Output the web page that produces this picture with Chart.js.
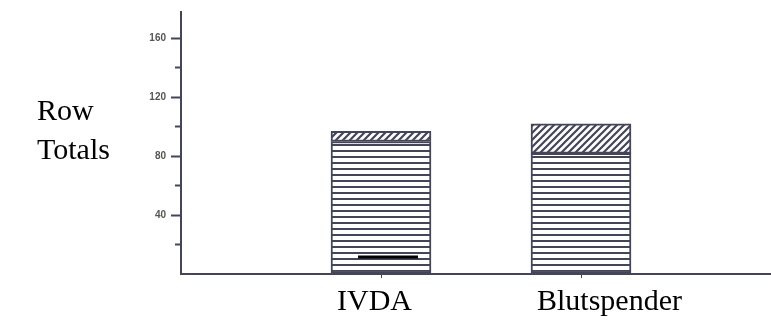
<!DOCTYPE html>
<html>
<head>
<meta charset="utf-8">
<script src="https://cdn.jsdelivr.net/npm/chart.js@4.4.1/dist/chart.umd.min.js"></script>
<style>
  html, body { margin: 0; padding: 0; background: #ffffff; }
  #wrap { width: 771px; height: 322px; position: relative; }
</style>
</head>
<body>
<div id="wrap"><canvas id="c" width="771" height="322"></canvas></div>
<script>
// Categories and stacked row totals
const categories = ['IVDA', 'Blutspender'];
const lowerTotals = [90, 82];   // horizontally striped segment
const upperTotals = [7, 20];    // diagonally hatched segment
// short black bar drawn inside the IVDA column
const ivdaMarkLevel = [11.5, 11.5];
const ivdaMarkSpan = [0.885, 1.185];
const yTitleLines = ['Row', 'Totals'];

const ink = '#45455a';
const serif = '"Liberation Serif", "Times New Roman", serif';

function stripePattern() {
  const t = document.createElement('canvas');
  t.width = 8; t.height = 6;
  const g = t.getContext('2d');
  g.fillStyle = '#ffffff'; g.fillRect(0, 0, 8, 6);
  g.fillStyle = ink; g.fillRect(0, 0, 8, 2);
  return g.createPattern(t, 'repeat');
}

function hatchPattern() {
  const s = 7;
  const t = document.createElement('canvas');
  t.width = s; t.height = s;
  const g = t.getContext('2d');
  g.fillStyle = '#ffffff'; g.fillRect(0, 0, s, s);
  g.strokeStyle = ink; g.lineWidth = 2.2;
  g.beginPath();
  g.moveTo(-1, s + 1); g.lineTo(s + 1, -1);
  g.moveTo(-1, 1); g.lineTo(1, -1);
  g.moveTo(s - 1, s + 1); g.lineTo(s + 1, s - 1);
  g.stroke();
  return g.createPattern(t, 'repeat');
}

const rowTitle = {
  id: 'rowTitle',
  afterDraw(chart) {
    const ctx = chart.ctx;
    ctx.save();
    ctx.font = '30px ' + serif;
    ctx.fillStyle = '#000000';
    ctx.textAlign = 'left';
    ctx.textBaseline = 'alphabetic';
    yTitleLines.forEach((line, i) => ctx.fillText(line, 37, 120 + i * 39));
    ctx.restore();
  }
};

const isMinor = (ctx) => ctx.tick && ctx.tick.value % 40 !== 0;

new Chart(document.getElementById('c'), {
  type: 'bar',
  data: {
    datasets: [
      {
        label: 'lower',
        data: categories.map((c, i) => ({ x: i + 1, y: lowerTotals[i] })),
        backgroundColor: stripePattern(),
        borderColor: ink,
        borderWidth: 2,
        borderSkipped: false,
        barThickness: 100,
        stack: 'totals',
        order: 1
      },
      {
        label: 'upper',
        data: categories.map((c, i) => ({ x: i + 1, y: upperTotals[i] })),
        backgroundColor: hatchPattern(),
        borderColor: ink,
        borderWidth: 2,
        borderSkipped: false,
        barThickness: 100,
        stack: 'totals',
        order: 1
      },
      {
        type: 'line',
        label: 'mark',
        data: ivdaMarkSpan.map((x, i) => ({ x: x, y: ivdaMarkLevel[i] })),
        borderColor: '#000000',
        borderWidth: 3,
        pointRadius: 0,
        stack: 'mark',
        order: 0
      }
    ]
  },
  options: {
    responsive: false,
    animation: false,
    devicePixelRatio: 1,
    layout: { padding: { top: 12, right: 0, bottom: 0, left: 0 } },
    plugins: { legend: { display: false }, tooltip: { enabled: false } },
    scales: {
      x: {
        type: 'linear',
        min: 0,
        max: 2.95,
        offset: false,
        stacked: true,
        afterBuildTicks: (scale) => { scale.ticks = categories.map((c, i) => ({ value: i + 1 })); },
        afterFit: (scale) => { scale.height = 48; },
        grid: { offset: false, drawOnChartArea: false, drawTicks: true, tickLength: 4, tickColor: ink, tickWidth: 1 },
        border: { display: true, color: ink, width: 2 },
        ticks: {
          autoSkip: false,
          align: 'start',
          labelOffset: -44,
          padding: 6,
          color: '#000000',
          font: { family: serif, size: 30 },
          callback: (v) => categories[Math.round(v) - 1]
        }
      },
      y: {
        min: 0,
        max: 178,
        stacked: true,
        afterFit: (scale) => { scale.width = 181; },
        grid: {
          drawOnChartArea: false,
          tickLength: 10,
          tickWidth: 2,
          tickColor: (ctx) => (ctx.tick && ctx.tick.value === 0) ? 'rgba(0,0,0,0)' : ink,
          tickBorderDash: (ctx) => isMinor(ctx) ? [6, 100] : [],
          tickBorderDashOffset: (ctx) => isMinor(ctx) ? -4 : 0
        },
        border: { display: true, color: ink, width: 2 },
        ticks: {
          stepSize: 20,
          includeBounds: false,
          padding: 5,
          color: '#555555',
          font: { family: '"Liberation Sans", Arial, sans-serif', size: 10, weight: 'bold' },
          callback: (v) => (v > 0 && v % 40 === 0) ? String(v) : ''
        }
      }
    }
  },
  plugins: [rowTitle]
});
</script>
</body>
</html>
